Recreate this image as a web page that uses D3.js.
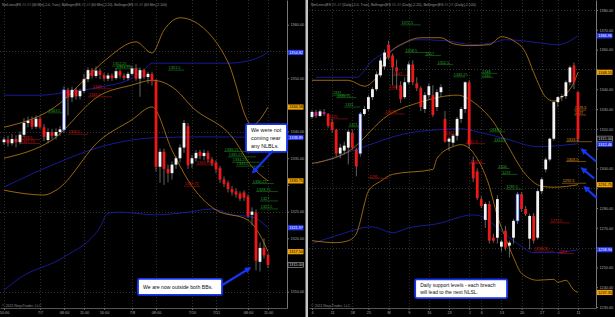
<!DOCTYPE html>
<html>
<head>
<meta charset="UTF-8">
<title>ES NetLines 60 min / daily</title>
<script src="https://d3js.org/d3.v7.min.js"></script>
<style>
  body { margin: 0; background: #000; }
  svg { display: block; font-family: "Liberation Sans", Arial, sans-serif; }
</style>
</head>
<body>
<div id="my_dataviz"></div>
<script>
// ---------- left chart (60 min) ----------
var leftOpen = [1338.0,1338.5,1337.8,1338.6,1338.0,1339.4,1341.6,1342.2,1340.9,1342.4,
  1340.8,1338.4,1339.9,1339.2,1339.9,1340.3,1347.8,1346.4,1347.8,1346.6,
  1347.6,1349.8,1351.5,1350.4,1351.4,1350.6,1349.9,1350.5,1350.0,1351.3,
  1350.5,1350.0,1350.8,1351.8,1349.9,1351.5,1350.2,1350.8,1349.4,1333.4,
  1336.2,1333.0,1332.2,1333.8,1335.0,1337.0,1341.0,1334.0,1335.0,1336.2,
  1335.4,1336.0,1334.8,1334.2,1333.2,1331.0,1330.4,1329.2,1328.8,1328.4,
  1328.6,1327.8,1324.4,1324.8,1315.6,1318.2,1316.9];
var leftHigh = [1339.0,1339.2,1339.5,1339.3,1340.0,1342.5,1342.8,1342.8,1343.0,1342.8,
  1341.4,1340.6,1340.5,1340.6,1341.0,1348.5,1348.2,1348.4,1348.2,1348.0,
  1350.8,1352.0,1351.9,1352.2,1351.8,1351.0,1351.0,1350.9,1351.9,1351.6,
  1350.9,1351.2,1352.3,1352.6,1352.0,1351.8,1351.2,1351.2,1349.8,1336.8,
  1336.8,1333.8,1334.4,1335.4,1337.6,1342.2,1341.6,1335.6,1336.5,1336.6,
  1336.6,1336.4,1335.2,1334.6,1333.6,1331.6,1330.8,1329.8,1329.4,1328.8,
  1329.0,1328.2,1325.8,1325.4,1319.2,1320.0,1317.2];
var leftLow = [1337.5,1337.2,1337.4,1337.0,1337.6,1339.0,1340.8,1340.4,1340.5,1340.5,
  1338.2,1337.8,1338.6,1338.5,1339.2,1339.8,1343.0,1345.5,1346.0,1346.0,
  1347.2,1349.2,1349.9,1350.0,1349.8,1349.5,1349.4,1349.5,1349.7,1350.0,
  1349.6,1349.6,1350.5,1349.5,1346.5,1349.8,1349.0,1348.6,1332.5,1330.4,
  1330.0,1330.5,1331.0,1333.0,1334.2,1336.0,1333.0,1333.2,1334.4,1334.8,
  1334.6,1334.2,1333.5,1332.2,1330.4,1329.6,1328.6,1328.0,1327.6,1327.0,
  1327.0,1323.8,1322.4,1314.0,1313.8,1316.2,1314.4];
var leftClose = [1338.5,1337.8,1338.6,1338.0,1339.4,1341.6,1342.0,1340.9,1342.4,1340.8,
  1339.0,1339.9,1339.2,1339.9,1340.4,1347.8,1346.4,1347.8,1346.6,1347.6,
  1349.8,1351.5,1350.4,1351.4,1350.6,1349.9,1350.5,1350.0,1351.3,1350.5,
  1350.0,1350.8,1351.8,1349.9,1351.5,1350.2,1350.8,1349.4,1333.4,1336.2,
  1333.0,1332.2,1333.8,1335.0,1337.0,1341.6,1333.7,1335.0,1336.0,1335.4,
  1336.0,1334.8,1334.0,1332.9,1331.0,1330.2,1329.2,1328.6,1328.2,1327.4,
  1327.6,1324.2,1325.0,1315.8,1318.2,1316.8,1315.0];

var leftTickIdx = [0, 9, 15, 20, 25, 32, 38, 47, 53, 61, 66];
var leftTickLabels = ["10:00","7/7","08:00","11:00","16:00","7/8","08:00","7/10","7/11","08:00","11:00"];
var leftPriceTicks = [1310,1315,1320,1325,1330,1335,1340,1345,1350,1355,1360];
var leftGridPrices = [1310,1325,1340,1355];

// bollinger 20 (orange) and 100 (blue), read at a few bars
var leftOrangeUpIdx = [0,14,20,26,33,37,40,44,49,56,62,66];
var leftOrangeUp = [1340.8,1345.3,1349.6,1353.8,1356.8,1354.7,1359.0,1361.3,1359.9,1353.0,1341.2,1344.58];
var leftOrangeMidIdx = [0,12,24,32,37,43,47,57,62,66];
var leftOrangeMid = [1335.0,1338.4,1346.8,1348.7,1349.6,1347.8,1344.6,1339.0,1333.4,1330.75];
var leftOrangeLowIdx = [0,10,13,24,32,37,42,46,53,61,64,66];
var leftOrangeLow = [1329.0,1328.1,1329.0,1338.4,1342.2,1344.6,1336.5,1330.9,1325.3,1323.4,1320.6,1317.5];
var leftBlueUpIdx = [0,9,16,24,32,35,37,56,62,66];
var leftBlueUp = [1346.8,1346.8,1347.4,1348.3,1350.0,1351.5,1352.8,1352.8,1353.4,1354.82];
var leftBlueMidIdx = [0,12,24,37,49,66];
var leftBlueMid = [1329.6,1333.7,1337.1,1338.8,1339.0,1338.89];
var leftBlueLowIdx = [0,4,15,24,26,29,38,46,52,57,62,66];
var leftBlueLow = [1310.3,1312.6,1316.5,1322.1,1324.7,1324.9,1324.4,1324.9,1325.5,1324.4,1324.0,1321.97];

// net lines: [price, first bar, last bar]
var leftGreenLevels = [[1352.25,27,32],[1351.75,28,34],[1351.5,41,45],[1343.5,11,15],
  [1336.25,55,62],[1335.25,56,63],[1334.25,57,64],[1333.5,58,65],
  [1330.25,62,67.5],[1328.75,63,68.5],[1327,64,68.5],[1325.5,64,68.5]];
var leftRedLevels = [[1348,22,27],[1346.5,21,27],[1339.5,16,21],[1338.5,4,9],[1337.75,4,9],
  [1333.75,48,53],[1329.75,45,49]];

var leftTagsBlue = [1354.82, 1338.89, 1321.97];
var leftTagsOrange = [1344.58, 1330.75, 1317.50];
var leftLast = 1315.00;

// ---------- right chart (daily) ----------
var rightOpen = [1326.0,1328.5,1326.5,1328.5,1327.5,1323.5,1319.5,1307.5,1309.0,1310.5,
  1318.0,1309.5,1307.5,1327.5,1330.0,1336.0,1340.0,1347.0,1351.5,1362.5,
  1357.0,1351.0,1342.0,1336.0,1343.5,1352.5,1343.0,1340.5,1330.0,1337.0,
  1337.0,1331.0,1338.5,1325.0,1313.5,1313.0,1316.5,1325.0,1330.0,1343.5,
  1303.0,1298.5,1284.5,1274.0,1282.0,1265.0,1265.0,1260.5,1268.5,1261.0,
  1265.0,1273.5,1287.0,1279.5,1264.5,1276.0,1265.0,1288.5,1299.5,1304.5,
  1315.0,1333.5,1336.0,1336.5,1343.5,1352.0,1338.5];
var rightHigh = [1329.5,1329.5,1329.8,1330.0,1328.0,1325.0,1320.0,1312.5,1313.5,1319.5,
  1319.5,1310.5,1328.5,1331.5,1337.0,1341.0,1349.0,1356.0,1360.0,1364.5,
  1358.0,1355.0,1344.0,1346.0,1354.0,1354.5,1346.0,1341.5,1338.5,1343.0,
  1342.0,1340.0,1342.5,1329.0,1316.0,1317.5,1326.0,1331.0,1344.0,1344.5,
  1306.0,1300.0,1286.0,1283.0,1283.5,1267.0,1286.5,1264.0,1271.0,1263.5,
  1274.5,1288.0,1288.0,1281.0,1277.0,1277.5,1289.5,1295.5,1305.5,1315.5,
  1334.0,1336.5,1337.5,1344.5,1352.0,1353.5,1339.0];
var rightLow = [1325.0,1325.5,1326.0,1326.5,1320.5,1318.0,1306.0,1305.0,1307.0,1302.0,
  1309.5,1296.0,1306.0,1326.5,1329.0,1334.5,1339.0,1346.0,1350.0,1355.0,
  1342.0,1340.0,1333.0,1335.0,1342.5,1342.0,1339.0,1329.0,1328.0,1335.0,
  1326.0,1329.0,1336.0,1313.0,1309.0,1311.0,1314.0,1323.0,1328.0,1310.0,
  1293.0,1284.0,1280.0,1270.0,1262.0,1262.5,1262.0,1258.0,1258.5,1255.0,
  1262.0,1272.0,1278.0,1276.0,1259.0,1262.0,1264.0,1287.0,1298.0,1303.5,
  1314.0,1331.0,1334.0,1335.0,1342.0,1340.0,1313.5];
var rightClose = [1328.5,1326.5,1328.8,1327.5,1321.5,1319.5,1307.5,1310.5,1311.5,1318.5,
  1310.5,1301.0,1327.5,1330.0,1336.0,1340.0,1347.5,1354.5,1358.5,1356.0,
  1351.0,1349.0,1335.0,1343.5,1352.5,1343.5,1340.5,1331.0,1337.0,1341.5,
  1327.0,1338.5,1341.0,1313.5,1315.0,1316.5,1325.0,1330.0,1343.5,1312.0,
  1295.0,1285.0,1281.0,1282.0,1263.5,1263.5,1284.5,1263.0,1260.0,1262.5,
  1273.5,1287.0,1279.5,1277.0,1276.0,1263.5,1288.5,1294.5,1304.5,1315.0,
  1333.5,1336.0,1336.5,1343.5,1351.0,1343.5,1315.0];

var rightTickIdx = [0,5,10,14,19,24,29,34,39,42,47,52,57,61,66];
var rightTickLabels = ["4","11","18","25","M","9","16","23","J","6","13","20","27","J","11"];
var rightPriceTicks = [1230,1240,1250,1260,1270,1280,1290,1300,1310,1320,1330,1340,1350,1360,1370,1380];
var rightGridPrices = [1260,1290,1320,1350,1380];

var rightOrangeUpIdx = [0,9,13,16,19,23,27,32,35,39,44,47,50,53,55,58,60,62,65,66];
var rightOrangeUp = [1344.5,1344.5,1341.5,1346,1357.5,1363.5,1366,1366,1363,1362,1362.5,1366.5,1364.5,1358.5,1348.5,1336,1334,1336,1343.5,1348.55];
var rightOrangeMidIdx = [0,9,19,27,36,41,45,48,53,57,60,66];
var rightOrangeMid = [1302.5,1308.5,1327,1333.5,1337,1332,1323.5,1313.5,1297,1291,1290.5,1291.75];
var rightOrangeLowIdx = [0,6,9,11,12,13,14,17,20,30,31,35,37,41,44,46,48,50,52,56,60,61,63,65,66];
var rightOrangeLow = [1263.5,1262.5,1263.5,1267,1273.5,1282,1288.5,1293.5,1297,1299.5,1305,1311,1312,1305,1291,1276,1265,1255,1247,1243.5,1244,1242.5,1243.5,1238.5,1237.35];
var rightBlueUpIdx = [1,11,15,20,26,33,40,45,48,52,56,61,66];
var rightBlueUp = [1346,1346,1354.5,1360,1365,1364.5,1362.5,1363.5,1365,1364.5,1363.5,1362.5,1366.96];
var rightBlueMidIdx = [1,11,23,31,37,41,48,56,66];
var rightBlueMid = [1302.5,1309.5,1317.5,1319.5,1320,1318.5,1315,1311,1312.46];
var rightBlueLowIdx = [0,6,15,20,24,31,40,43,46,51,55,60,66];
var rightBlueLow = [1262,1266,1270.5,1267.5,1270,1272,1276.5,1275,1270,1262,1257.5,1257.5,1258.94];

var rightGreenLevels = [[1372.5,22,27],[1358.5,23,29],[1357,28,32],[1352.5,31,35],[1346.25,35,38],
  [1348,42,46],[1346,42,45],[1337,5,9],[1335.75,6,11],[1331,8,12],[1321,9,12],
  [1318.5,44,48],[1313.5,45,48],[1300,46,49],[1297,47,51],[1289.5,48,52]];
var rightRedLevels = [[1347,20,24],[1340,19,22],[1327.5,18,23],[1325,4,9],[1317,33,36],
  [1312.5,38,43],[1302.5,39,43],[1295,14,19],[1272.5,59,64],[1258.25,55,60],[1257,61,65]];
var rightOrangeLevels = [[1329.5,65,68],[1327,65,68],[1313.5,63,69.5],[1303.5,63,68],[1292.5,62,68]];

var rightTagsBlue = [1366.96, 1312.46, 1258.94];
var rightTagsOrange = [1348.55, 1291.75, 1237.35];
var rightLast = 1315.00;

// ---------- notes (in bar / price units) ----------
var leftNote1Box = [60.5, 1341.4, 70.75, 1336.2];
var leftNote1Text = ["We were not", "coming near", "any NLBLs."];
var leftNote1Arrow = [67.25, 1336.4, 62.3, 1332.4];
var leftNote2Box = [33.5, 1312.4, 54.5, 1309.4];
var leftNote2Text = ["We are now outside both BBs."];
var leftNote2Arrow = [54.5, 1311.2, 61.4, 1314.4];
var rightNoteBox = [25.6, 1244.0, 48.4, 1234.5];
var rightNoteText = ["Daily support levels - each breach", "will lead to the next NLSL."];
var rightArrows = [[70.5,1303.5,67.0,1309.5],[70.0,1295,67.0,1300],[70.7,1285,67.7,1290.5]];

// ---------- drawing ----------
var plotW = 287, plotH = 308;
var svg = d3.select("#my_dataviz").append("svg")
    .attr("width", 615).attr("height", 317);
svg.append("rect").attr("width", 615).attr("height", 317).attr("fill", "#000");

var defs = svg.append("defs");
defs.append("marker").attr("id", "head")
    .attr("viewBox", "0 0 10 10").attr("refX", 7).attr("refY", 5)
    .attr("markerWidth", 6.5).attr("markerHeight", 6.5)
    .attr("markerUnits", "userSpaceOnUse").attr("orient", "auto")
  .append("path").attr("d", "M0,0L10,5L0,10z").attr("fill", "#1535f0");

function drawPanel(p) {
  var g = svg.append("g").attr("transform", "translate(" + p.left + ",0)");
  var x = d3.scaleLinear().domain(p.xDomain).range([0, plotW]);
  var y = d3.scaleLinear().domain(p.yDomain).range([plotH, 0]);

  g.append("clipPath").attr("id", "clip-" + p.name)
    .append("rect").attr("width", plotW).attr("height", plotH);
  var plot = g.append("g").attr("clip-path", "url(#clip-" + p.name + ")");

  // grid
  plot.selectAll(null).data(p.grid).enter().append("line")
    .attr("x1", 0).attr("x2", plotW)
    .attr("y1", function(d) { return Math.round(y(d)) + 0.5; })
    .attr("y2", function(d) { return Math.round(y(d)) + 0.5; })
    .attr("stroke", "#4a4a4a").attr("stroke-width", 0.7).attr("stroke-dasharray", "1,2");
  plot.selectAll(null).data(p.xTicks).enter().append("line")
    .attr("x1", function(d) { return Math.round(x(d)) + 0.5; })
    .attr("x2", function(d) { return Math.round(x(d)) + 0.5; })
    .attr("y1", 0).attr("y2", plotH)
    .attr("stroke", "#3e3e3e").attr("stroke-width", 0.7).attr("stroke-dasharray", "1,2");

  // title
  g.append("text").attr("x", 2).attr("y", 5.5)
    .attr("font-size", 3.6).attr("fill", "#9a9a9a")
    .attr("textLength", 165).attr("lengthAdjust", "spacingAndGlyphs")
    .text(p.title);

  // bands
  var line = d3.line()
    .x(function(d) { return x(d[0]); })
    .y(function(d) { return y(d[1]); })
    .curve(d3.curveMonotoneX);
  p.bands.forEach(function(b) {
    plot.append("path").datum(d3.zip(b[0], b[1]))
      .attr("fill", "none").attr("stroke", b[2]).attr("stroke-width", 0.9)
      .attr("d", line);
  });

  // net lines
  p.levels.forEach(function(L) {
    var lv = plot.append("g");
    lv.selectAll(null).data(L[0]).enter().append("line")
      .attr("x1", function(d) { return x(d[1]); })
      .attr("x2", function(d) { return x(d[2]); })
      .attr("y1", function(d) { return y(d[0]); })
      .attr("y2", function(d) { return y(d[0]); })
      .attr("stroke", L[1]).attr("stroke-width", 0.6);
    lv.selectAll(null).data(L[0]).enter().append("text")
      .attr("x", function(d) { return x(d[1]) + 0.8; })
      .attr("y", function(d) { return y(d[0]) - 0.8; })
      .attr("font-size", 3.8).attr("fill", L[2])
      .text(function(d) { return String(d[0]); });
  });

  // candles
  var idx = d3.range(p.open.length);
  plot.selectAll(null).data(idx).enter().append("line")
    .attr("x1", function(i) { return x(i); })
    .attr("x2", function(i) { return x(i); })
    .attr("y1", function(i) { return y(p.high[i]); })
    .attr("y2", function(i) { return y(p.low[i]); })
    .attr("stroke", "#8c8c8c").attr("stroke-width", 0.7);
  plot.selectAll(null).data(idx).enter().append("rect")
    .attr("x", function(i) { return x(i) - 1.4; })
    .attr("width", 2.8)
    .attr("y", function(i) { return y(Math.max(p.open[i], p.close[i])); })
    .attr("height", function(i) { return Math.max(0.9, Math.abs(y(p.open[i]) - y(p.close[i]))); })
    .attr("fill", function(i) {
      if (p.close[i] >= p.open[i]) return "#f4f4f4";
      return p.magenta.indexOf(i) >= 0 ? "#c8208e" : "#ee1818";
    })
    .attr("stroke", function(i) { return p.blueEdge.indexOf(i) >= 0 ? "#4a66ff" : "none"; })
    .attr("stroke-width", 0.6);

  // value tags on the price axis (positions first, so covered tick labels can be dropped)
  var tags = [];
  p.tagsBlue.forEach(function(v) { tags.push({v: v, bg: "#2436f0", fg: "#fff", line: "none"}); });
  p.tagsOrange.forEach(function(v) { tags.push({v: v, bg: "#f2a400", fg: "#000", line: "none"}); });
  tags.push({v: p.last, bg: "#000", fg: "#ddd", line: "#cfcfcf"});
  tags.forEach(function(t) { t.y = y(t.v); });
  tags.sort(function(a, b) { return a.y - b.y; });
  for (var k = 1; k < tags.length; k++) {
    if (tags[k].y < tags[k - 1].y + 5.6) tags[k].y = tags[k - 1].y + 5.6;
  }

  // price axis
  var ya = g.append("g").attr("transform", "translate(" + plotW + ",0)")
    .call(d3.axisRight(y).tickValues(p.yTicks).tickFormat(d3.format(".2f"))
      .tickSize(2).tickSizeOuter(0).tickPadding(1.5));
  ya.select(".domain").attr("stroke", "#777");
  ya.selectAll(".tick line").attr("stroke", "#777");
  ya.selectAll(".tick text").attr("fill", "#a8a8a8").attr("font-size", 3.8)
    .filter(function(d) {
      return tags.some(function(t) { return Math.abs(t.y - y(d)) < 4.8; });
    }).remove();

  // time axis
  var xa = g.append("g").attr("transform", "translate(0," + plotH + ")")
    .call(d3.axisBottom(x).tickValues(p.xTicks)
      .tickFormat(function(d, i) { return p.xLabels[i]; })
      .tickSize(2).tickSizeOuter(0).tickPadding(1.5));
  xa.select(".domain").attr("stroke", "#555");
  xa.selectAll(".tick line").attr("stroke", "#666");
  xa.selectAll(".tick text").attr("fill", "#a8a8a8").attr("font-size", 3.8);

  g.append("text").attr("x", 2).attr("y", plotH - 1.5)
    .attr("font-size", 3.6).attr("fill", "#8a8a8a")
    .text("\u00a9 2011 NinjaTrader, LLC");

  var tg = g.selectAll(null).data(tags).enter().append("g");
  tg.append("rect")
    .attr("x", plotW + 1).attr("y", function(t) { return t.y - 2.6; })
    .attr("width", 15.5).attr("height", 5.2)
    .attr("fill", function(t) { return t.bg; })
    .attr("stroke", function(t) { return t.line; }).attr("stroke-width", 0.5);
  tg.append("text")
    .attr("x", plotW + 2.2).attr("y", function(t) { return t.y + 1.4; })
    .attr("font-size", 3.8).attr("fill", function(t) { return t.fg; })
    .text(function(t) { return d3.format(".2f")(t.v); });

  // notes
  p.notes.forEach(function(n) {
    var b = n.box;
    g.append("rect")
      .attr("x", x(b[0])).attr("y", y(b[1]))
      .attr("width", x(b[2]) - x(b[0])).attr("height", y(b[3]) - y(b[1]))
      .attr("rx", 1.5).attr("fill", "#fff")
      .attr("stroke", "#1535f0").attr("stroke-width", 1.8);
    g.selectAll(null).data(n.text).enter().append("text")
      .attr("x", x(b[0]) + 5)
      .attr("y", function(d, i) { return y(b[1]) + n.first + i * n.step; })
      .attr("font-size", n.size).attr("fill", "#111")
      .text(function(d) { return d; });
  });
  p.arrows.forEach(function(a) {
    g.append("line")
      .attr("x1", x(a[0])).attr("y1", y(a[1]))
      .attr("x2", x(a[2])).attr("y2", y(a[3]))
      .attr("stroke", "#1535f0").attr("stroke-width", 2.2)
      .attr("marker-end", "url(#head)");
  });
}

drawPanel({
  name: "left", left: 0,
  title: "NetLines(ES ##-## (60 Min),2.0, True), Bollinger(ES ##-## (60 Min),2.20), Bollinger(ES ##-## (60 Min),2.100)",
  xDomain: [-1, 70.75], yDomain: [1306.95, 1364.63],
  open: leftOpen, high: leftHigh, low: leftLow, close: leftClose,
  magenta: [], blueEdge: [15],
  xTicks: leftTickIdx, xLabels: leftTickLabels, yTicks: leftPriceTicks, grid: leftGridPrices,
  bands: [
    [leftBlueUpIdx, leftBlueUp, "#1c1ca6"], [leftBlueMidIdx, leftBlueMid, "#1c1ca6"], [leftBlueLowIdx, leftBlueLow, "#1c1ca6"],
    [leftOrangeUpIdx, leftOrangeUp, "#a8720f"], [leftOrangeMidIdx, leftOrangeMid, "#a8720f"], [leftOrangeLowIdx, leftOrangeLow, "#a8720f"]
  ],
  levels: [[leftGreenLevels, "#1d7f1d", "#26a626"], [leftRedLevels, "#a81010", "#d01818"]],
  tagsBlue: leftTagsBlue, tagsOrange: leftTagsOrange, last: leftLast,
  notes: [
    {box: leftNote1Box, text: leftNote1Text, size: 5.4, first: 8.3, step: 8},
    {box: leftNote2Box, text: leftNote2Text, size: 5.2, first: 10, step: 7}
  ],
  arrows: [leftNote1Arrow, leftNote2Arrow]
});

drawPanel({
  name: "right", left: 309,
  title: "NetLines(ES ##-## (Daily),2.0, True), Bollinger(ES ##-## (Daily),2.20), Bollinger(ES ##-## (Daily),2.100)",
  xDomain: [-0.744, 70.47], yDomain: [1229.5, 1385.05],
  open: rightOpen, high: rightHigh, low: rightLow, close: rightClose,
  magenta: [1, 3], blueEdge: [12, 51],
  xTicks: rightTickIdx, xLabels: rightTickLabels, yTicks: rightPriceTicks, grid: rightGridPrices,
  bands: [
    [rightBlueUpIdx, rightBlueUp, "#1c1ca6"], [rightBlueMidIdx, rightBlueMid, "#1c1ca6"], [rightBlueLowIdx, rightBlueLow, "#1c1ca6"],
    [rightOrangeUpIdx, rightOrangeUp, "#a8720f"], [rightOrangeMidIdx, rightOrangeMid, "#a8720f"], [rightOrangeLowIdx, rightOrangeLow, "#a8720f"]
  ],
  levels: [[rightGreenLevels, "#1d7f1d", "#26a626"], [rightRedLevels, "#a81010", "#d01818"],
           [rightOrangeLevels, "#c07c10", "#e09a20"]],
  tagsBlue: rightTagsBlue, tagsOrange: rightTagsOrange, last: rightLast,
  notes: [
    {box: rightNoteBox, text: rightNoteText, size: 5, first: 7.3, step: 7.6}
  ],
  arrows: rightArrows
});

// divider between the two charts
svg.append("rect").attr("x", 305.5).attr("y", 0).attr("width", 2.5).attr("height", 317).attr("fill", "#c4c4c4");
</script>
</body>
</html>
